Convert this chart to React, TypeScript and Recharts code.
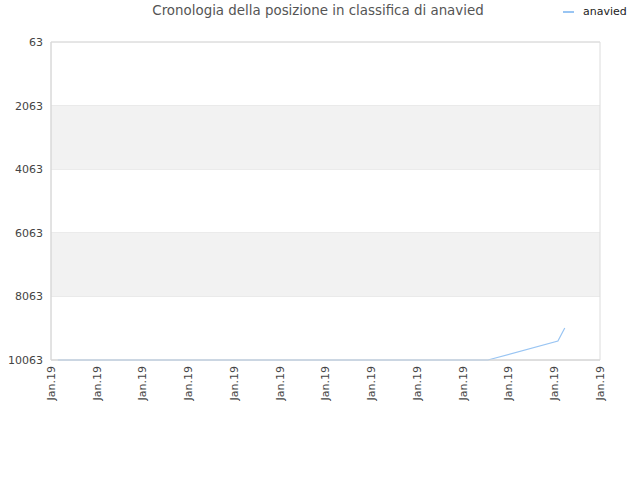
import React from 'react';
import { CartesianGrid, Line, LineChart, ReferenceArea, XAxis, YAxis } from 'recharts';

const xPositions = [0.15, 9.55, 11.08, 11.23];
const ranks = [10063, 10063, 9466, 9057];
const xTicks = [0, 1, 2, 3, 4, 5, 6, 7, 8, 9, 10, 11, 12];
const xTickLabel = 'Jan.19';
const yTicks = [63, 2063, 4063, 6063, 8063, 10063];
const bands = [[2063, 4063], [6063, 8063]];

const data = xPositions.map((x, i) => ({ x, rank: ranks[i] }));

const font = '"DejaVu Sans", Verdana, sans-serif';

const App: React.FC = () => {
  return (
    <div style={{ position: 'absolute', left: 0, top: 0, width: 640, height: 480, background: '#fff' }}>
      <div
        style={{
          position: 'absolute',
          top: 3,
          left: 0,
          width: 636,
          textAlign: 'center',
          fontFamily: font,
          fontSize: 13.4,
          color: '#555',
        }}
      >
        Cronologia della posizione in classifica di anavied
      </div>
      <div
        style={{
          position: 'absolute',
          top: 5,
          left: 563,
          display: 'flex',
          alignItems: 'center',
          fontFamily: font,
          fontSize: 11,
          color: '#222',
        }}
      >
        <span style={{ display: 'inline-block', width: 11, height: 2, background: '#99c5f3', marginRight: 9 }} />
        anavied
      </div>
      <LineChart
        width={640}
        height={480}
        data={data}
        margin={{ top: 42, right: 40, bottom: 0, left: 0 }}
      >
        {bands.map(([a, b]) => (
          <ReferenceArea key={a} y1={a} y2={b} fill="#f2f2f2" fillOpacity={1} stroke="none" />
        ))}
        <CartesianGrid vertical={false} stroke="#e0e0e0" />
        <ReferenceArea x1={0} x2={12} y1={63} y2={10063} fill="none" stroke="#dcdcdc" />
        <XAxis
          dataKey="x"
          type="number"
          domain={[0, 12]}
          ticks={xTicks}
          interval={0}
          tickFormatter={() => xTickLabel}
          height={120}
          angle={-90}
          textAnchor="end"
          dx={-4}
          dy={-2}
          tick={{ fontSize: 11, fill: '#444', fontFamily: font }}
          tickLine={false}
          stroke="#d8d8d8"
        />
        <YAxis
          reversed
          domain={[63, 10063]}
          ticks={yTicks}
          interval={0}
          width={51}
          tick={{ fontSize: 11, fill: '#444', fontFamily: font }}
          tickLine={false}
          axisLine={{ stroke: '#d8d8d8' }}
        />
        <Line
          type="linear"
          dataKey="rank"
          stroke="#99c5f3"
          strokeWidth={1.2}
          dot={false}
          isAnimationActive={false}
        />
      </LineChart>
    </div>
  );
};

export default App;
